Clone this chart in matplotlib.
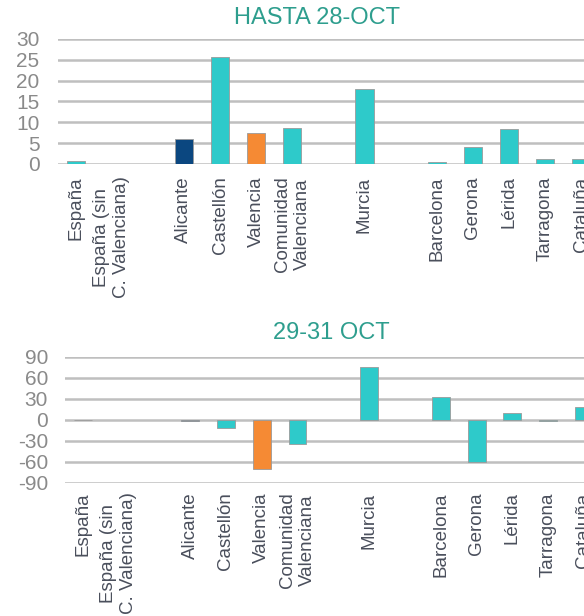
import matplotlib
matplotlib.use("Agg")
import matplotlib.pyplot as plt
import numpy as np

# ---- data ----
groups = [
    ["España", "España (sin\nC. Valenciana)"],
    ["Alicante", "Castellón", "Valencia", "Comunidad\nValenciana"],
    ["Murcia"],
    ["Barcelona", "Gerona", "Lérida", "Tarragona", "Cataluña"],
]
hasta_28oct = [0.6, 0.0, 5.9, 25.6, 7.4, 8.7, 17.9, 0.4, 4.1, 8.4, 1.3, 1.2]
oct_29_31 = [-1.0, 0.0, -1.5, -12.0, -71.0, -35.0, 75.0, 32.0, -60.0, 10.0, -1.5, 17.5]
highlight = {"Alicante": "#0B4780", "Valencia": "#F58A34"}
titles = ["HASTA 28-OCT", "29-31 OCT"]
yticks_top = [0, 5, 10, 15, 20, 25, 30]
yticks_bot = [-90, -60, -30, 0, 30, 60, 90]

TEAL = "#2ECACA"
GRID = "#BFBFBF"
TICKC = "#8A8A8A"
LABC = "#4A4F5C"
TITC = "#2E9E8E"

# positions: one empty slot between groups
cats, pos = [], []
p = 0
for g in groups:
    for c in g:
        cats.append(c)
        pos.append(p)
        p += 1
    p += 1
pos = np.array(pos)
colors = [highlight.get(c, TEAL) for c in cats]

plt.rcParams['font.family'] = ['Liberation Sans', 'DejaVu Sans']

fig = plt.figure(figsize=(5.84, 6.16), dpi=100)
W, H = 584, 616

def make_ax(left_px, top_px, bottom_px, xmax, vals, yt, title, tx, ty, ypad, xpad):
    ax = fig.add_axes([left_px / W, 1 - bottom_px / H, 1 - left_px / W,
                       (bottom_px - top_px) / H])
    ax.set_axisbelow(True)
    lws = [0.6 if v != 0 else 0 for v in vals]
    ax.bar(pos, vals, width=0.5, color=colors, edgecolor="#9A9A9A",
           linewidth=lws, zorder=3)
    ax.set_xlim(-0.5, xmax)
    ax.set_ylim(yt[0], yt[-1])
    ax.set_yticks(yt)
    ax.set_yticklabels([str(v) for v in yt])
    ax.yaxis.grid(True, color=GRID, linewidth=1.8)
    ax.set_xticks(pos)
    ax.set_xticklabels(cats, rotation=90, ha="center", va="top",
                       multialignment="center", linespacing=1.25,
                       fontsize=13.5, color=LABC)
    ax.tick_params(axis="y", length=0, labelsize=15, labelcolor=TICKC, pad=ypad)
    ax.tick_params(axis="x", length=0, pad=xpad)
    for s in ax.spines.values():
        s.set_visible(False)
    fig.text(tx / W, 1 - ty / H, title, ha="center", va="center",
             fontsize=17, color=TITC)
    return ax

make_ax(57.6, 39, 164, 14.08, hasta_28oct, yticks_top, titles[0], 317, 18, 13, 9)
make_ax(64.7, 356.7, 482.7, 14.0, oct_29_31, yticks_bot, titles[1], 331, 333, 12, 7)

fig.savefig("out.png", dpi=100)
